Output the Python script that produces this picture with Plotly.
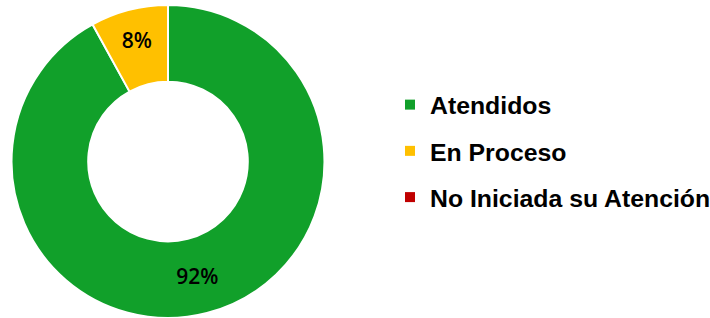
import plotly.graph_objects as go

categories = ["Atendidos", "En Proceso", "No Iniciada su Atención"]
values = [92, 8, 0]
colors = ["#11A02A", "#FFC000", "#C00000"]

W, H = 710, 318

fig = go.Figure()
fig.add_trace(go.Pie(
    labels=categories,
    values=values,
    hole=0.51,
    sort=False,
    direction="clockwise",
    rotation=0,
    marker=dict(colors=colors, line=dict(color="white", width=2)),
    textinfo="percent",
    texttemplate="%{percent:.0%}",
    textposition="inside",
    insidetextorientation="horizontal",
    textfont=dict(family="Open Sans", size=21, color="black", weight=600),
    showlegend=False,
    domain=dict(x=[11 / W, 325 / W], y=[0.0, 0.984]),
    hoverinfo="label+percent",
))

for name, col in zip(categories, colors):
    fig.add_trace(go.Scatter(
        x=[None], y=[None], mode="markers", name=name,
        legendgroup=name,
        marker=dict(symbol="square", size=10, color=col),
    ))

fig.update_layout(
    width=W, height=H,
    margin=dict(l=0, r=0, t=0, b=0, autoexpand=False),
    paper_bgcolor="white",
    plot_bgcolor="white",
    xaxis=dict(visible=False),
    yaxis=dict(visible=False),
    legend=dict(
        x=390 / W, y=1 - 82 / H, xanchor="left", yanchor="top",
        font=dict(family="Liberation Sans", size=24.8, color="black", weight="bold"),
        tracegroupgap=11,
        bgcolor="rgba(0,0,0,0)",
        itemwidth=30,
    ),
)

fig.write_html("out.html", config={"displayModeBar": False},
               post_script="document.body.style.margin='0';")
